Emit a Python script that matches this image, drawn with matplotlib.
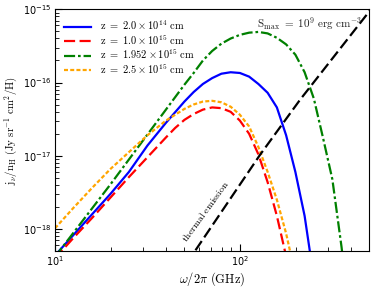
import numpy as np
import matplotlib
matplotlib.use("Agg")
import matplotlib.pyplot as plt
from matplotlib.font_manager import FontProperties

# curves: log10 of frequency (GHz) and log10 of j_nu/n_H
blue_lx = [1.00, 1.10, 1.20, 1.30, 1.40, 1.50, 1.60, 1.70, 1.75, 1.80, 1.85, 1.90, 1.95, 2.00, 2.05,
           2.10, 2.15, 2.20, 2.25, 2.30, 2.35, 2.38, 2.40]
blue_ly = [-18.36, -18.08, -17.80, -17.52, -17.22, -16.86, -16.55, -16.26, -16.13, -16.02, -15.94, -15.88,
           -15.86, -15.87, -15.92, -16.02, -16.14, -16.34, -16.72, -17.22, -17.82, -18.33, -18.70]

red_lx = [1.00, 1.10, 1.20, 1.30, 1.40, 1.50, 1.60, 1.65, 1.70, 1.75, 1.80, 1.85, 1.90, 1.95, 2.00,
          2.05, 2.10, 2.15, 2.20, 2.25, 2.27]
red_ly = [-18.40, -18.12, -17.85, -17.57, -17.29, -17.02, -16.75, -16.62, -16.51, -16.43, -16.37, -16.34,
          -16.35, -16.40, -16.52, -16.70, -16.98, -17.36, -17.82, -18.37, -18.60]

green_lx = [1.00, 1.10, 1.20, 1.30, 1.40, 1.50, 1.60, 1.70, 1.75, 1.80, 1.85, 1.90, 1.95, 2.00, 2.05,
            2.10, 2.15, 2.20, 2.25, 2.30, 2.35, 2.40, 2.45, 2.50, 2.55, 2.57]
green_ly = [-18.38, -18.05, -17.72, -17.39, -17.05, -16.71, -16.37, -16.03, -15.87, -15.70, -15.57, -15.47,
            -15.40, -15.35, -15.32, -15.31, -15.33, -15.39, -15.48, -15.62, -15.86, -16.22, -16.76, -17.32,
            -18.25, -18.70]

orange_lx = [1.00, 1.10, 1.20, 1.30, 1.40, 1.50, 1.60, 1.70, 1.75, 1.80, 1.85, 1.90, 1.95, 2.00, 2.05,
             2.10, 2.15, 2.20, 2.25, 2.28, 2.30]
orange_ly = [-17.99, -17.71, -17.44, -17.18, -16.95, -16.72, -16.52, -16.36, -16.30, -16.26, -16.25, -16.27,
             -16.33, -16.44, -16.60, -16.88, -17.22, -17.60, -18.06, -18.40, -18.70]

thermal_lx = [1.716, 1.757, 2.108, 2.324, 2.692, 2.724]
thermal_ly = [-18.47, -18.30, -16.99, -16.24, -15.055, -14.95]

labels = [r'$\mathrm{z\ =\ 2.0\times10^{14}\ cm}$',
          r'$\mathrm{z\ =\ 1.0\times10^{15}\ cm}$',
          r'$\mathrm{z\ =\ 1.952\times10^{15}\ cm}$',
          r'$\mathrm{z\ =\ 2.5\times10^{15}\ cm}$']

fig = plt.figure(figsize=(3.74, 2.88), dpi=100)
ax = fig.add_axes([0.147, 0.128, 0.840, 0.840])


def pw(a):
    return 10 ** np.array(a)


ax.plot(pw(blue_lx), pw(blue_ly), color='blue', lw=1.6, label=labels[0])
ax.plot(pw(red_lx), pw(red_ly), color='red', lw=1.6, dashes=(5, 2), label=labels[1])
ax.plot(pw(green_lx), pw(green_ly), color='green', lw=1.6, dashes=(5, 1.3, 1.2, 1.3), label=labels[2])
ax.plot(pw(orange_lx), pw(orange_ly), color='orange', lw=1.6, dashes=(1.8, 1.0), label=labels[3])
ax.plot(pw(thermal_lx), pw(thermal_ly), color='black', lw=1.6, dashes=(5, 2))

ax.set_xscale('log')
ax.set_yscale('log')
ax.set_xlim(10, 500)
ax.set_ylim(5e-19, 1e-15)

ax.tick_params(which='both', direction='in', labelsize=7, top=False, right=False, pad=2.5)
ax.tick_params(which='major', length=5)
ax.tick_params(which='minor', length=3)

ax.set_xlabel(r'$\omega/2\pi\ \mathrm{(GHz)}$', fontsize=9, math_fontfamily='cm', labelpad=1)
ax.set_ylabel(r'$\mathrm{j_\nu/n_H\ (Jy\ sr^{-1}\ cm^2/H)}$', fontsize=7.8, math_fontfamily='cm',
              labelpad=3)

ax.text(0.978, 0.942, r'$\mathrm{S_{max}\ =\ 10^9\ erg\ cm^{-3}}$', transform=ax.transAxes,
        ha='right', va='center', fontsize=8, math_fontfamily='cm', color='#222222')
ax.text(64.5, 1.75e-18, r'$\mathrm{thermal\ emission}$', rotation=54, ha='center', va='center',
        fontsize=7, math_fontfamily='cm', rotation_mode='anchor')

prop = FontProperties(size=7.5, math_fontfamily='cm')
ax.legend(loc='upper left', frameon=False, prop=prop, handlelength=2.6, handletextpad=0.8,
          labelspacing=0.08)

fig.savefig('out.png', dpi=100)
